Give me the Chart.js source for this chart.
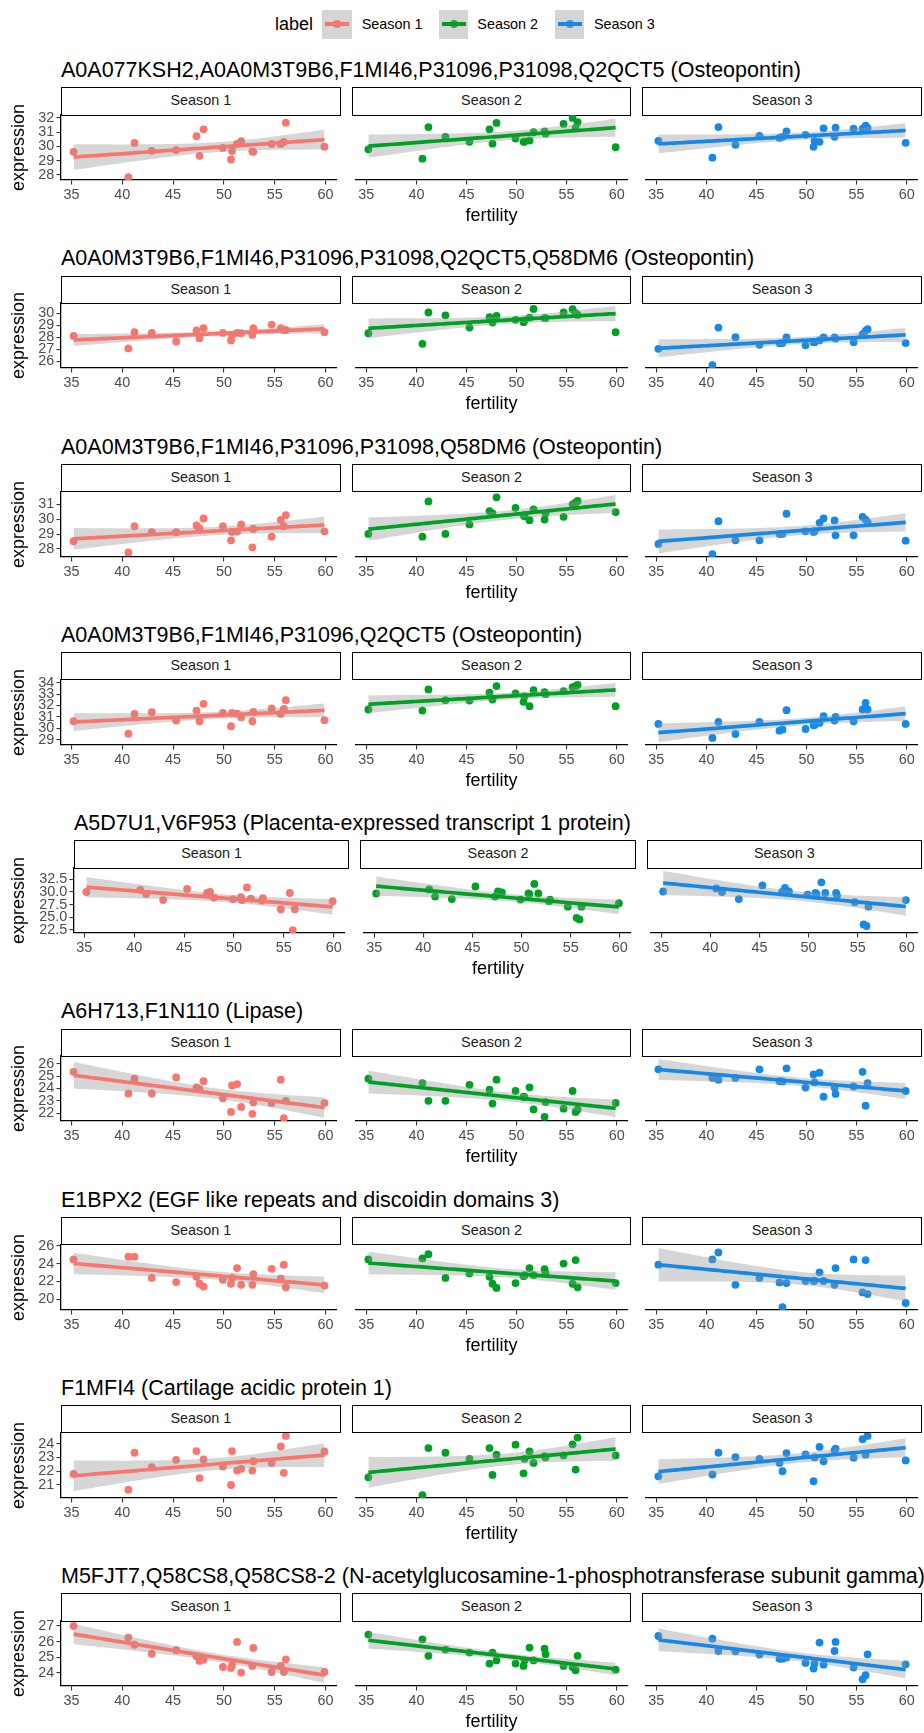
<!DOCTYPE html>
<html>
<head>
<meta charset="utf-8">
<script src="https://cdn.jsdelivr.net/npm/chart.js@4"></script>
<style>
body { margin: 0; background: #fff; font-family: 'Liberation Sans', Arial, sans-serif; }
#page { position: relative; width: 924px; height: 1733px; overflow: hidden; background: #fff; }
.txt { position: absolute; white-space: nowrap; color: #000; }
.title { font-size: 21.5px; height: 24px; line-height: 24px; }
.xtitle { font-size: 18px; height: 22px; line-height: 22px; transform: translateX(-50%); }
.strip { position: absolute; box-sizing: border-box; border: 1.4px solid #000; background: #fff;
         font-size: 14.4px; color: #1a1a1a; text-align: center; }
.key { position: absolute; background: #d5d5d5; }
.key span { position: absolute; }
canvas { position: absolute; }
</style>
</head>
<body>
<div id="page"></div>
<script>
// ---- 数据 ----
var fertility = [35.2, 40.6, 41.2, 42.9, 45.3, 47.3, 47.6, 48.0, 49.9, 50.7, 50.8, 51.3, 51.7, 52.8, 52.9, 54.7, 55.6, 55.9, 56.1, 59.9];
var xTicks = [35, 40, 45, 50, 55, 60];
var seasonLabels = ['Season 1', 'Season 2', 'Season 3'];

var proteinTitles = [
    'A0A077KSH2,A0A0M3T9B6,F1MI46,P31096,P31098,Q2QCT5 (Osteopontin)',
    'A0A0M3T9B6,F1MI46,P31096,P31098,Q2QCT5,Q58DM6 (Osteopontin)',
    'A0A0M3T9B6,F1MI46,P31096,P31098,Q58DM6 (Osteopontin)',
    'A0A0M3T9B6,F1MI46,P31096,Q2QCT5 (Osteopontin)',
    'A5D7U1,V6F953 (Placenta-expressed transcript 1 protein)',
    'A6H713,F1N110 (Lipase)',
    'E1BPX2 (EGF like repeats and discoidin domains 3)',
    'F1MFI4 (Cartilage acidic protein 1)',
    'M5FJT7,Q58CS8,Q58CS8-2 (N-acetylglucosamine-1-phosphotransferase subunit gamma)'
];

var expr1s1 = [29.63, 27.86, 30.25, 29.7, 29.75, 30.72, 29.35, 31.2, 29.9, 29.09, 29.68, 30.18, 30.37, 29.66, 29.63, 30.18, 30.18, 30.32, 31.67, 29.99];
var expr1s2 = [29.8, 29.15, 31.36, 30.68, 30.33, 31.2, 30.2, 31.65, 30.56, 30.33, 30.35, 30.42, 31.0, 31.06, 30.9, 31.58, 32.0, 31.3, 31.7, 29.95];
var expr1s3 = [30.4, 29.22, 31.36, 30.12, 30.75, 30.6, 30.68, 31.06, 30.82, 29.98, 30.4, 30.33, 31.27, 30.68, 31.32, 31.25, 31.25, 31.46, 31.3, 30.26];

var expr2s1 = [28.12, 27.08, 28.43, 28.37, 27.66, 28.57, 27.93, 28.76, 28.37, 27.74, 28.2, 28.37, 28.34, 28.2, 28.76, 29.06, 28.76, 28.62, 28.6, 28.43];
var expr2s2 = [28.34, 27.46, 30.06, 29.83, 28.81, 29.67, 29.23, 29.78, 29.45, 29.26, 29.4, 29.64, 30.36, 29.59, 29.6, 30.06, 30.33, 30.0, 29.86, 28.43];
var expr2s3 = [27.05, 25.7, 28.81, 28.01, 27.38, 27.5, 27.52, 28.0, 27.35, 27.6, 27.6, 27.74, 27.99, 27.99, 27.9, 27.6, 28.26, 28.54, 28.68, 27.52];

var expr3s1 = [28.52, 27.77, 29.53, 29.13, 29.13, 29.58, 29.4, 30.05, 29.53, 28.58, 29.15, 29.17, 29.65, 28.11, 29.35, 28.83, 29.96, 29.53, 30.28, 29.19];
var expr3s2 = [29.01, 28.83, 31.2, 29.01, 29.65, 30.55, 30.39, 31.47, 30.77, 30.26, 30.2, 29.94, 30.66, 29.98, 30.4, 30.16, 31.0, 31.11, 31.23, 30.48];
var expr3s3 = [28.34, 27.66, 29.87, 28.58, 28.58, 29.0, 29.01, 30.37, 29.19, 29.15, 29.2, 29.76, 30.05, 29.92, 28.92, 28.92, 30.16, 29.98, 29.8, 28.56];

var expr4s1 = [30.62, 29.53, 31.26, 31.41, 30.68, 31.56, 30.62, 32.15, 31.35, 30.18, 31.35, 31.29, 30.97, 30.62, 31.44, 31.74, 31.26, 31.7, 32.47, 30.71];
var expr4s2 = [31.65, 31.56, 33.41, 32.47, 32.44, 33.12, 32.53, 33.71, 33.06, 32.32, 32.8, 31.94, 33.35, 33.18, 33.0, 33.26, 33.62, 33.7, 33.8, 31.94];
var expr4s3 = [30.38, 29.15, 30.56, 29.5, 30.56, 29.79, 29.9, 31.59, 29.94, 30.26, 30.3, 30.47, 31.06, 30.68, 31.0, 30.62, 31.65, 32.24, 31.65, 30.38];

var expr5s1 = [30.0, 30.4, 29.6, 28.4, 30.6, 29.8, 30.0, 28.9, 28.6, 29.0, 28.4, 30.9, 28.7, 28.3, 28.8, 26.6, 29.8, 22.5, 26.6, 28.2];
var expr5s2 = [29.7, 30.5, 29.1, 28.6, 31.1, 29.1, 30.1, 29.9, 28.5, 29.7, 29.6, 31.6, 29.7, 28.2, 28.5, 27.1, 24.9, 24.6, 27.1, 27.8];
var expr5s3 = [30.1, 30.7, 30.0, 28.6, 31.3, 30.0, 30.8, 30.1, 29.5, 29.8, 29.6, 31.9, 29.8, 29.8, 29.3, 28.0, 23.6, 23.3, 27.1, 28.4];

var expr6s1 = [25.36, 23.6, 24.8, 23.6, 24.9, 24.1, 23.97, 24.6, 23.2, 22.1, 24.25, 24.36, 22.5, 21.94, 22.86, 22.83, 24.72, 21.6, 23.0, 22.83];
var expr6s2 = [24.8, 24.44, 23.0, 23.0, 24.3, 23.9, 22.78, 24.72, 23.8, 23.33, 23.3, 24.1, 22.3, 21.7, 22.9, 22.36, 23.8, 22.1, 22.3, 22.83];
var expr6s3 = [25.56, 24.86, 24.72, 24.86, 25.56, 24.6, 24.58, 25.64, 24.08, 25.14, 24.5, 25.28, 23.33, 24.08, 23.56, 24.17, 25.36, 22.6, 24.44, 23.8];

var expr7s1 = [24.47, 24.78, 24.78, 22.4, 21.94, 22.52, 21.75, 21.44, 22.2, 21.75, 22.4, 23.5, 21.63, 21.63, 22.83, 23.42, 22.33, 23.88, 21.36, 21.55];
var expr7s2 = [24.47, 24.58, 25.05, 22.4, 22.9, 22.52, 21.75, 21.28, 21.83, 22.6, 22.7, 23.5, 22.72, 23.38, 22.9, 24.0, 21.75, 24.39, 21.36, 21.83];
var expr7s3 = [23.88, 24.47, 25.24, 21.63, 22.4, 21.9, 19.15, 21.83, 22.06, 22.06, 22.1, 23.03, 22.06, 21.63, 23.5, 24.47, 20.78, 24.39, 20.6, 19.6];

var expr8s1 = [21.8, 20.66, 23.34, 22.3, 22.83, 23.46, 21.5, 22.85, 22.34, 21.0, 23.46, 22.05, 22.17, 22.05, 22.73, 22.6, 23.8, 21.88, 24.56, 23.44];
var expr8s2 = [21.56, 20.27, 23.68, 23.34, 22.9, 23.68, 21.73, 23.2, 23.93, 21.85, 22.9, 23.44, 22.6, 23.1, 23.0, 23.15, 23.95, 22.12, 24.44, 23.15];
var expr8s3 = [21.63, 21.76, 23.34, 23.02, 22.9, 22.6, 22.0, 23.32, 23.22, 21.27, 23.0, 23.76, 22.73, 23.51, 23.63, 22.98, 24.32, 23.2, 24.56, 22.78];

var expr9s1 = [27.0, 26.26, 25.8, 25.23, 25.45, 25.06, 24.77, 24.85, 24.38, 24.32, 24.49, 25.98, 24.02, 24.45, 25.6, 24.06, 24.45, 24.06, 24.87, 24.06];
var expr9s2 = [26.45, 26.15, 25.09, 25.49, 25.3, 24.6, 25.3, 24.8, 24.6, 24.45, 24.8, 25.62, 24.8, 25.55, 25.2, 24.45, 24.38, 24.17, 25.09, 24.21];
var expr9s3 = [26.36, 26.19, 25.4, 25.38, 25.17, 24.9, 24.91, 24.98, 24.64, 24.28, 24.6, 25.94, 24.53, 25.4, 25.98, 24.34, 23.6, 23.85, 25.19, 24.55];

var yTicks1 = [28, 29, 30, 31, 32];
var yTicks2 = [26, 27, 28, 29, 30];
var yTicks3 = [28, 29, 30, 31];
var yTicks4 = [29, 30, 31, 32, 33, 34];
var yTicks5 = [22.5, 25, 27.5, 30, 32.5];
var yTicks6 = [22, 23, 24, 25, 26];
var yTicks7 = [20, 22, 24, 26];
var yTicks8 = [21, 22, 23, 24];
var yTicks9 = [24, 25, 26, 27];

var rows = [
    { title: proteinTitles[0], series: [expr1s1, expr1s2, expr1s3], ticks: yTicks1 },
    { title: proteinTitles[1], series: [expr2s1, expr2s2, expr2s3], ticks: yTicks2 },
    { title: proteinTitles[2], series: [expr3s1, expr3s2, expr3s3], ticks: yTicks3 },
    { title: proteinTitles[3], series: [expr4s1, expr4s2, expr4s3], ticks: yTicks4 },
    { title: proteinTitles[4], series: [expr5s1, expr5s2, expr5s3], ticks: yTicks5 },
    { title: proteinTitles[5], series: [expr6s1, expr6s2, expr6s3], ticks: yTicks6 },
    { title: proteinTitles[6], series: [expr7s1, expr7s2, expr7s3], ticks: yTicks7 },
    { title: proteinTitles[7], series: [expr8s1, expr8s2, expr8s3], ticks: yTicks8 },
    { title: proteinTitles[8], series: [expr9s1, expr9s2, expr9s3], ticks: yTicks9 }
];

// ---- 样式与布局 ----
var seasonColors = ['#F8766D', '#00A024', '#1688E8'];
var BAND_FILL = 'rgba(153,153,153,0.4)';
var T_QUANTILE = 2.1009; // qt(0.975, df = 18)
var FIRST_TITLE_Y = 70;
var ROW_STEP = 188.25;
var PANEL_RIGHT = 922;
var PANEL_GAP = 11;
var PLOT_H = 65;
var PAD_T = 12;
var X_AXIS_H = 30;
var TICK_FONT = { family: "'Liberation Sans', Arial, sans-serif", size: 14.4 };
var TICK_COLOR = '#4D4D4D';

var page = document.getElementById('page');

function addDiv(cls, text, css) {
    var d = document.createElement('div');
    d.className = cls;
    d.textContent = text;
    for (var k in css) d.style[k] = css[k];
    page.appendChild(d);
    return d;
}

// 最小二乘拟合
function linearFit(xs, ys) {
    var n = xs.length, mx = 0, my = 0, i;
    for (i = 0; i < n; i++) { mx += xs[i]; my += ys[i]; }
    mx /= n; my /= n;
    var sxx = 0, sxy = 0;
    for (i = 0; i < n; i++) {
        sxx += (xs[i] - mx) * (xs[i] - mx);
        sxy += (xs[i] - mx) * (ys[i] - my);
    }
    var b = sxy / sxx, a = my - b * mx, sse = 0;
    for (i = 0; i < n; i++) {
        var r = ys[i] - a - b * xs[i];
        sse += r * r;
    }
    return { a: a, b: b, s: Math.sqrt(sse / (n - 2)), mx: mx, sxx: sxx, n: n };
}

// 拟合线与95%置信带（与 geom_smooth(method = "lm") 相同，80 个点）
function smoothCurve(fit, xmin, xmax) {
    var steps = 80, out = { line: [], lower: [], upper: [] };
    for (var k = 0; k < steps; k++) {
        var x = xmin + (xmax - xmin) * k / (steps - 1);
        var y = fit.a + fit.b * x;
        var se = fit.s * Math.sqrt(1 / fit.n + (x - fit.mx) * (x - fit.mx) / fit.sxx);
        out.line.push({ x: x, y: y });
        out.lower.push({ x: x, y: y - T_QUANTILE * se });
        out.upper.push({ x: x, y: y + T_QUANTILE * se });
    }
    return out;
}

function toPoints(xs, ys) {
    var pts = [];
    for (var i = 0; i < xs.length; i++) pts.push({ x: xs[i], y: ys[i] });
    return pts;
}

function expandRange(lo, hi) {
    var pad = (hi - lo) * 0.05;
    return [lo - pad, hi + pad];
}

var xMinData = Math.min.apply(null, fertility);
var xMaxData = Math.max.apply(null, fertility);
var xRange = expandRange(xMinData, xMaxData);

function createPanel(row, k, curve, yRange, geo) {
    var first = k === 0;
    var canvas = document.createElement('canvas');
    var cLeft = first ? 0 : geo.panelLeft;
    var cWidth = geo.panelLeft + geo.width - cLeft;
    var cHeight = PAD_T + PLOT_H + X_AXIS_H;
    canvas.width = Math.round(cWidth);
    canvas.height = cHeight;
    canvas.style.left = cLeft + 'px';
    canvas.style.top = (geo.plotTop - PAD_T) + 'px';
    page.appendChild(canvas);

    var color = seasonColors[k];
    var decimals = row.ticks.some(function(v) { return v % 1 !== 0; });

    new Chart(canvas, {
        type: 'scatter',
        data: {
            datasets: [{
                type: 'scatter',
                data: toPoints(fertility, row.series[k]),
                backgroundColor: color,
                borderWidth: 0,
                pointRadius: 3.9,
                order: 3
            }, {
                type: 'line',
                data: curve.lower,
                borderWidth: 0,
                pointRadius: 0,
                fill: false,
                order: 2
            }, {
                type: 'line',
                data: curve.upper,
                borderWidth: 0,
                pointRadius: 0,
                backgroundColor: BAND_FILL,
                fill: '-1',
                order: 2
            }, {
                type: 'line',
                data: curve.line,
                borderColor: color,
                borderWidth: 3.7,
                pointRadius: 0,
                fill: false,
                order: 1
            }]
        },
        options: {
            responsive: false,
            animation: false,
            devicePixelRatio: 1,
            layout: { padding: { top: PAD_T, left: 0, right: 0, bottom: 0 } },
            plugins: { legend: { display: false }, tooltip: { enabled: false } },
            scales: {
                x: {
                    type: 'linear',
                    min: xRange[0],
                    max: xRange[1],
                    afterBuildTicks: function(s) {
                        s.ticks = xTicks.map(function(v) { return { value: v }; });
                    },
                    afterFit: function(s) {
                        s.height = X_AXIS_H;
                        s.paddingLeft = 0;
                        s.paddingRight = 0;
                    },
                    ticks: { font: TICK_FONT, color: TICK_COLOR, padding: 2, maxRotation: 0, autoSkip: false },
                    grid: { drawOnChartArea: false, drawTicks: true, tickLength: 4.5, color: '#333333', lineWidth: 1.1 },
                    border: { display: true, color: '#000', width: 1.3 }
                },
                y: {
                    type: 'linear',
                    display: first,
                    min: yRange[0],
                    max: yRange[1],
                    afterBuildTicks: function(s) {
                        s.ticks = row.ticks.map(function(v) { return { value: v }; });
                    },
                    afterFit: function(s) {
                        // 只有第一个分面显示 y 轴
                        s.width = first ? geo.panelLeft : 0;
                        s.paddingTop = 0;
                        s.paddingBottom = 0;
                    },
                    ticks: {
                        font: TICK_FONT, color: TICK_COLOR, padding: 2.2, autoSkip: false,
                        callback: function(v) { return decimals ? v.toFixed(1) : String(v); }
                    },
                    grid: { drawOnChartArea: false, drawTicks: true, tickLength: 4.5, color: '#333333', lineWidth: 1.1 },
                    border: { display: true, color: '#000', width: 1.3 },
                    title: {
                        display: true,
                        text: 'expression',
                        color: '#000',
                        font: { family: "'Liberation Sans', Arial, sans-serif", size: 18 },
                        padding: { top: 8, bottom: 0 }
                    }
                }
            }
        }
    });
}

function buildRow(r) {
    var row = rows[r];
    var T = FIRST_TITLE_Y + ROW_STEP * r;
    var wide = row.ticks.some(function(v) { return v % 1 !== 0; });
    var left = wide ? 74 : 61;
    var w = (PANEL_RIGHT - left - 2 * PANEL_GAP) / 3;
    var plotTop = T + 45;

    addDiv('txt title', row.title, { left: left + 'px', top: (T - 12) + 'px' });

    // 先算三个分面的拟合，y 轴范围包含点和置信带
    var curves = [], lo = Infinity, hi = -Infinity;
    for (var k = 0; k < 3; k++) {
        var fit = linearFit(fertility, row.series[k]);
        var c = smoothCurve(fit, xMinData, xMaxData);
        curves.push(c);
        for (var i = 0; i < row.series[k].length; i++) {
            lo = Math.min(lo, row.series[k][i]);
            hi = Math.max(hi, row.series[k][i]);
        }
        for (var j = 0; j < c.lower.length; j++) {
            lo = Math.min(lo, c.lower[j].y);
            hi = Math.max(hi, c.upper[j].y);
        }
    }
    var yRange = expandRange(lo, hi);

    for (var p = 0; p < 3; p++) {
        var pl = left + p * (w + PANEL_GAP);
        addDiv('strip', seasonLabels[p], {
            left: pl + 'px', top: (T + 17.3) + 'px', width: w + 'px', height: '28.4px', lineHeight: '25.6px'
        });
        createPanel(row, p, curves[p], yRange, { panelLeft: pl, width: w, plotTop: plotTop });
    }

    addDiv('txt xtitle', 'fertility', { left: ((left + PANEL_RIGHT) / 2) + 'px', top: (T + 134) + 'px' });
}

// 图例
function mixColor(hex, grey, a) {
    var r = parseInt(hex.substr(1, 2), 16), g = parseInt(hex.substr(3, 2), 16), b = parseInt(hex.substr(5, 2), 16);
    return 'rgb(' + Math.round(r * (1 - a) + grey * a) + ',' + Math.round(g * (1 - a) + grey * a) + ',' + Math.round(b * (1 - a) + grey * a) + ')';
}

function buildLegend() {
    addDiv('txt', 'label', { left: '275px', top: '13px', fontSize: '18px', lineHeight: '22px' });
    var keyLefts = [322.3, 439, 555];
    var textLefts = [361.7, 477.3, 594];
    for (var k = 0; k < 3; k++) {
        var key = addDiv('key', '', { left: keyLefts[k] + 'px', top: '9.5px', width: '29.3px', height: '29px' });
        var dot = document.createElement('span');
        dot.style.cssText = 'left:10.8px;top:10.6px;width:7.8px;height:7.8px;border-radius:50%;background:' + mixColor(seasonColors[k], 153, 0.4);
        key.appendChild(dot);
        var ln = document.createElement('span');
        ln.style.cssText = 'left:2.5px;top:12.9px;width:24.3px;height:3.3px;background:' + seasonColors[k];
        key.appendChild(ln);
        addDiv('txt', seasonLabels[k], { left: textLefts[k] + 'px', top: '14px', fontSize: '14.4px', lineHeight: '20px' });
    }
}

buildLegend();
for (var r = 0; r < rows.length; r++) buildRow(r);
</script>
</body>
</html>
